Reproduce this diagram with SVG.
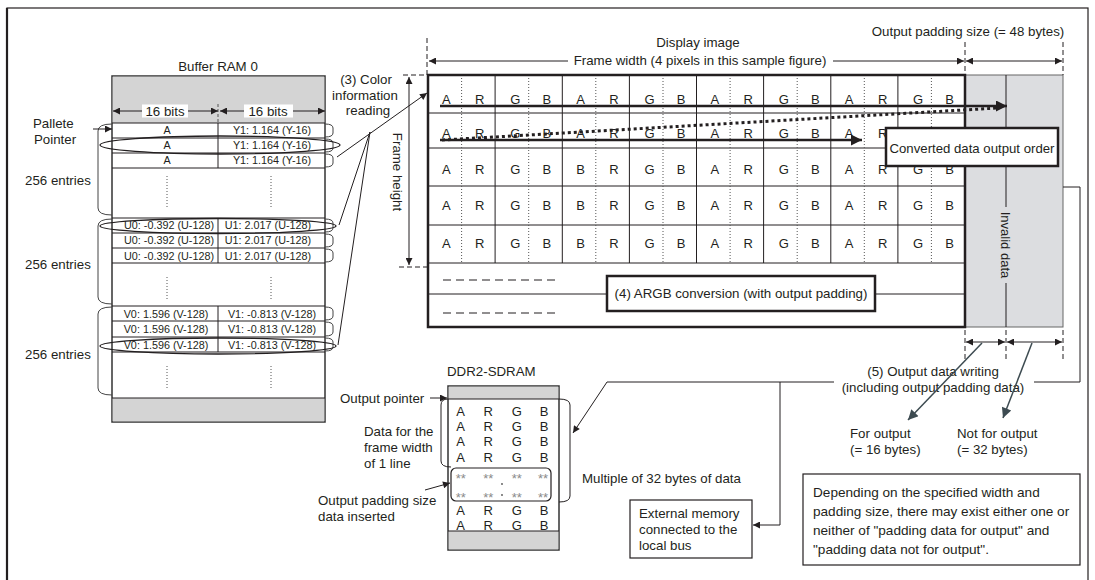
<svg xmlns="http://www.w3.org/2000/svg" width="1095" height="580" viewBox="0 0 1095 580">
<defs>
<style>
.t{font-family:"Liberation Sans",Arial,Helvetica,sans-serif;fill:#231f20}
.f10{font-size:10.8px}
.f12{font-size:13.3px}
.f13{font-size:13px}
.fn{font-size:13.6px}
.m{text-anchor:middle}
.ln{stroke:#231f20;stroke-width:1;fill:none}
.lg{stroke:#444;stroke-width:1;fill:none}
.thk{stroke:#231f20;stroke-width:2.5;fill:none}
.dsh{stroke:#231f20;stroke-width:1;stroke-dasharray:5 3;fill:none}
.dot{stroke:#555;stroke-width:1;stroke-dasharray:1 2;fill:none}
.gray{fill:#d4d4d4}
.ast{font-family:"Liberation Sans",Arial,sans-serif;font-size:13px;fill:#8a8a8a;text-anchor:middle}
</style>
<marker id="ah" viewBox="0 0 10 10" refX="10" refY="5" markerWidth="10" markerHeight="7" markerUnits="userSpaceOnUse" orient="auto-start-reverse"><path d="M0,0L10,5L0,10z" fill="#231f20"/></marker>
<marker id="ahL" viewBox="0 0 10 10" refX="10" refY="5" markerWidth="14" markerHeight="11" markerUnits="userSpaceOnUse" orient="auto-start-reverse"><path d="M0,0L10,5L0,10z" fill="#231f20"/></marker>
<marker id="ahG" viewBox="0 0 10 10" refX="10" refY="5" markerWidth="13" markerHeight="10" markerUnits="userSpaceOnUse" orient="auto-start-reverse"><path d="M0,0L10,5L0,10z" fill="#3d4b51"/></marker>
</defs>

<g id="outer-border">
<rect x="7" y="8" width="1081" height="580" fill="#fff" stroke="#231f20" stroke-width="1.2"/>
<line x1="7" y1="8" x2="7" y2="580" stroke="#231f20" stroke-width="2.2"/>
</g>

<!-- Buffer RAM 0 -->
<g id="buffer-ram-0">
<text class="t f12 m" x="218" y="70.5">Buffer RAM 0</text>
<rect x="112" y="76" width="213" height="346" fill="#fff" stroke="#333" stroke-width="1.5"/>
<rect class="gray" x="112.7" y="76.7" width="211.6" height="46.3"/>
<rect class="gray" x="112.7" y="398" width="211.6" height="23.3"/>
<g class="ln">
<path d="M112,123H325M112,138H325M112,153H325M112,168H325"/>
<path d="M112,218H325M112,233H325M112,248H325M112,263H325"/>
<path d="M112,306H325M112,321H325M112,337H325M112,352H325"/>
<path d="M112,398H325"/>
<path d="M218,123V168M218,218V263M218,306V352"/>
</g>
<line x1="218" y1="104" x2="218" y2="123" stroke="#555" stroke-dasharray="3 2"/>
<g class="dot">
<path d="M167,176V207M271,176V207M167,277V300M271,277V300M167,366V389M271,366V389"/>
</g>
<rect x="142" y="104.5" width="46" height="13" fill="#fff"/>
<rect x="244" y="104.5" width="49" height="13" fill="#fff"/>
<text class="t f12 m" x="165" y="116">16 bits</text>
<text class="t f12 m" x="268" y="116">16 bits</text>
<g class="t f10 m">
<text x="167" y="134">A</text><text x="272" y="134">Y1: 1.164 (Y-16)</text>
<text x="167" y="149">A</text><text x="272" y="149">Y1: 1.164 (Y-16)</text>
<text x="167" y="164">A</text><text x="272" y="164">Y1: 1.164 (Y-16)</text>
<text x="169" y="229">U0: -0.392 (U-128)</text><text x="268" y="229">U1: 2.017 (U-128)</text>
<text x="169" y="244">U0: -0.392 (U-128)</text><text x="268" y="244">U1: 2.017 (U-128)</text>
<text x="169" y="259.5">U0: -0.392 (U-128)</text><text x="268" y="259.5">U1: 2.017 (U-128)</text>
<text x="166" y="317.5">V0: 1.596 (V-128)</text><text x="272" y="317.5">V1: -0.813 (V-128)</text>
<text x="166" y="333">V0: 1.596 (V-128)</text><text x="272" y="333">V1: -0.813 (V-128)</text>
<text x="166" y="348.5">V0: 1.596 (V-128)</text><text x="272" y="348.5">V1: -0.813 (V-128)</text>
</g>
<g class="lg">
<path d="M325,124Q333,124 333,128V133Q333,137 325,137"/>
<path d="M325,139Q333,139 333,143V148Q333,152 325,152"/>
<path d="M325,154Q333,154 333,158V163Q333,167 325,167"/>
<path d="M325,219Q333,219 333,223V228Q333,232 325,232"/>
<path d="M325,234Q333,234 333,238V243Q333,247 325,247"/>
<path d="M325,249Q333,249 333,253V258Q333,262 325,262"/>
<path d="M325,307Q333,307 333,311V316Q333,320 325,320"/>
<path d="M325,322Q333,322 333,326V332Q333,336 325,336"/>
<path d="M325,338Q333,338 333,342V347Q333,351 325,351"/>
<path d="M112,124Q98,124 98,131V208Q98,215 112,215"/>
<path d="M112,219Q98,219 98,226V297Q98,304 112,304"/>
<path d="M112,307Q98,307 98,314V388Q98,395 112,395"/>
</g>
<g fill="none" stroke="#231f20" stroke-width="1.3">
<ellipse cx="220" cy="145" rx="120" ry="9"/>
<ellipse cx="218" cy="226" rx="118" ry="7.5"/>
<ellipse cx="218" cy="346" rx="118" ry="8"/>
</g>
</g>

<g id="buffer-labels">
<text class="t f12" x="33" y="127.5">Pallete</text>
<text class="t f12" x="34" y="143.5">Pointer</text>
<text class="t f12" x="25" y="184.5">256 entries</text>
<text class="t f12" x="25" y="268.5">256 entries</text>
<text class="t f12" x="25" y="358.5">256 entries</text>
<text class="t f12 m" x="366" y="84">(3) Color</text>
<text class="t f12 m" x="365" y="99.5">information</text>
<text class="t f12 m" x="368" y="115">reading</text>
</g>

<!-- Display image frame -->
<g id="display-image">
<rect x="965" y="75" width="98" height="252" fill="#dcdde0" stroke="#666" stroke-width="1"/>
<rect x="428" y="75" width="537" height="252" fill="#fff"/>
<g class="ln">
<path d="M428,113H965M428,148H965M428,186H965M428,225H965M428,263H965M428,294H965"/>
<path d="M495.1,75V263M562.3,75V263M629.4,75V263M696.5,75V263M763.6,75V263M830.8,75V263M897.9,75V263"/>
</g>
<g class="dot">
<path d="M461.6,75V263M528.7,75V263M595.8,75V263M663,75V263M730.1,75V263M797.2,75V263M864.3,75V263M931.4,75V263"/>
</g>
<rect x="428" y="75" width="537" height="252" fill="none" stroke="#231f20" stroke-width="2.5"/>
<g class="t f13 m">
<text x="446.3 479.8 515.4 546.9 580.6 614 649.6 681.2 714.8 748.3 783.9 815.4 849 882.6 918.1 949.7" y="104">ARGBARGBARGBARGB</text>
<text x="446.3 479.8 515.4 546.9 580.6 614 649.6 681.2 714.8 748.3 783.9 815.4 849 882.6 918.1 949.7" y="138">ARGBARGBARGBARGB</text>
<text x="446.3 479.8 515.4 546.9 580.6 614 649.6 681.2 714.8 748.3 783.9 815.4 849 882.6 918.1 949.7" y="174">ARGBBRGBARGBARGB</text>
<text x="446.3 479.8 515.4 546.9 580.6 614 649.6 681.2 714.8 748.3 783.9 815.4 849 882.6 918.1 949.7" y="210">ARGBBRGBARGBARGB</text>
<text x="446.3 479.8 515.4 546.9 580.6 614 649.6 681.2 714.8 748.3 783.9 815.4 849 882.6 918.1 949.7" y="248">ARGBBRGBARGBARGB</text>
</g>
<path d="M443,280H560M443,313H560" stroke="#231f20" stroke-width="1.2" stroke-dasharray="8 5" fill="none"/>
<path class="ln" d="M1006,75V207M1006,283V327"/>
<text class="t f13 m" transform="translate(1006,245) rotate(90)" dy="0.35em">Invalid data</text>
</g>

<g id="converted-order-box">
<rect x="886" y="128" width="172" height="38" fill="#fff" stroke="#231f20" stroke-width="2.5"/>
<text class="t m" style="font-size:13.2px" x="972" y="152.5">Converted data output order</text>
</g>

<g id="argb-conversion-box">
<rect x="607" y="276" width="268" height="35" fill="#fff" stroke="#231f20" stroke-width="2.5"/>
<text class="t f12 m" x="741" y="298">(4) ARGB conversion (with output padding)</text>
</g>

<g id="frame-labels">
<text class="t f12 m" x="698" y="47">Display image</text>
<text class="t f12 m" x="700" y="65">Frame width (4 pixels in this sample figure)</text>
<text class="t f12 m" x="968" y="36">Output padding size (= 48 bytes)</text>
<text class="t f12 m" transform="translate(398,172) rotate(90)" dy="0.35em">Frame height</text>
</g>

<!-- DDR2-SDRAM -->
<g id="ddr2-sdram">
<text class="t f12" x="447" y="376">DDR2-SDRAM</text>
<rect x="448" y="386" width="111" height="164" fill="#fff" stroke="#333" stroke-width="1.5"/>
<rect class="gray" x="448.7" y="386.7" width="109.6" height="12.3"/>
<rect class="gray" x="448.7" y="531" width="109.6" height="18.3"/>
<path class="ln" d="M448,399H559M448,531H559"/>
<g class="t f13 m">
<text x="460.7 488.3 516.7 544" y="416">ARGB</text>
<text x="460.7 488.3 516.7 544" y="431">ARGB</text>
<text x="460.7 488.3 516.7 544" y="446">ARGB</text>
<text x="460.7 488.3 516.7 544" y="461.5">ARGB</text>
<text x="460.7 488.3 516.7 544" y="515">ARGB</text>
<text x="460.7 488.3 516.7 544" y="530">ARGB</text>
</g>
<text class="ast" x="460.7" y="483">**</text><text class="ast" x="488.3" y="483">**</text><text class="ast" x="516.7" y="483">**</text><text class="ast" x="543" y="483">**</text>
<text class="ast" x="460.7" y="502">**</text><text class="ast" x="488.3" y="502">**</text><text class="ast" x="516.7" y="502">**</text><text class="ast" x="543" y="502">**</text>
<circle cx="502" cy="484" r="0.9" fill="#555"/>
<circle cx="502" cy="495" r="0.9" fill="#555"/>
<rect x="451" y="468" width="100" height="33" rx="5" fill="none" stroke="#231f20" stroke-width="1.2"/>
<path class="ln" d="M448,399Q441,399 441,405V461Q441,467 451,467"/>
<path class="ln" d="M559,399Q570,399 570,405V496Q570,502 559,502"/>
</g>

<g id="ddr2-labels">
<text class="t f12" x="340" y="402.5">Output pointer</text>
<text class="t f12" x="364" y="436">Data for the</text>
<text class="t f12" x="364" y="452">frame width</text>
<text class="t f12" x="364" y="468">of 1 line</text>
<text class="t f12" x="318" y="504.5">Output padding size</text>
<text class="t f12" x="318" y="520.5">data inserted</text>
<text class="t f12" x="582" y="482.5">Multiple of 32 bytes of data</text>
</g>

<g id="external-memory">
<rect x="630" y="500" width="122" height="58" fill="#fff" stroke="#231f20" stroke-width="1.2"/>
<text class="t f12" x="639" y="518">External memory</text>
<text class="t f12" x="639" y="534">connected to the</text>
<text class="t f12" x="639" y="549.5">local bus</text>
</g>

<g id="note">
<rect x="803" y="474" width="277" height="91" fill="#fff" stroke="#231f20" stroke-width="1.2"/>
<text class="t fn" x="813" y="497">Depending on the specified width and</text>
<text class="t fn" x="813" y="516">padding size, there may exist either one or</text>
<text class="t fn" x="813" y="535">neither of "padding data for output" and</text>
<text class="t fn" x="813" y="554">"padding data not for output".</text>
</g>

<g id="output-labels">
<text class="t f12 m" x="933" y="376">(5) Output data writing</text>
<text class="t f12 m" x="933" y="392">(including output padding data)</text>
<text class="t f12" x="850" y="438">For output</text>
<text class="t f12" x="850" y="454">(= 16 bytes)</text>
<text class="t f12" x="957" y="438">Not for output</text>
<text class="t f12" x="957" y="454">(= 32 bytes)</text>
</g>

<g id="connectors">
<line class="ln" x1="93" y1="129" x2="112" y2="129" marker-end="url(#ah)"/>
<line class="ln" x1="113" y1="111" x2="142" y2="111" marker-start="url(#ah)"/>
<line class="ln" x1="188" y1="111" x2="218" y2="111" marker-end="url(#ah)"/>
<line class="ln" x1="220" y1="111" x2="244" y2="111" marker-start="url(#ah)"/>
<line class="ln" x1="293" y1="111" x2="325" y2="111" marker-end="url(#ah)"/>
<line class="ln" x1="337" y1="157" x2="427" y2="93" marker-end="url(#ah)"/>
<path class="ln" d="M339,225L370,132L338,345"/>
<path class="dsh" d="M427,38V75M403,75H428M399,267H427"/>
<line class="ln" x1="409" y1="77" x2="409" y2="265" marker-start="url(#ah)" marker-end="url(#ah)"/>
<line class="ln" x1="568" y1="61" x2="429" y2="61" marker-end="url(#ah)"/>
<line class="ln" x1="833" y1="61" x2="964" y2="61" marker-end="url(#ah)"/>
<path class="dsh" d="M965,42V75M1063,42V75"/>
<line class="ln" x1="966" y1="61" x2="1062" y2="61" marker-start="url(#ah)" marker-end="url(#ah)"/>
<line class="thk" x1="440" y1="106" x2="1007" y2="106" marker-end="url(#ahL)"/>
<line x1="442" y1="140" x2="998" y2="108" stroke="#231f20" stroke-width="3" stroke-dasharray="3 3"/>
<line class="thk" x1="440" y1="140" x2="862" y2="140" marker-end="url(#ahL)"/>
<path class="dsh" d="M965,330V360M1006,330V360M1063,330V360"/>
<line class="ln" x1="966" y1="342" x2="1005" y2="342" marker-start="url(#ah)" marker-end="url(#ah)"/>
<line class="ln" x1="1007" y1="342" x2="1062" y2="342" marker-start="url(#ah)" marker-end="url(#ah)"/>
<line x1="982" y1="343" x2="908" y2="420" stroke="#3d4b51" stroke-width="1.5" marker-end="url(#ahG)"/>
<line x1="1032" y1="343" x2="1003" y2="418" stroke="#3d4b51" stroke-width="1.5" marker-end="url(#ahG)"/>
<path class="ln" d="M1063,187H1080V382H1034"/>
<path class="ln" d="M834,382H607L573,433" marker-end="url(#ah)"/>
<path class="ln" d="M780,382V525H753" marker-end="url(#ah)"/>
<line class="ln" x1="430" y1="398" x2="447" y2="398" marker-end="url(#ah)"/>
<line class="ln" x1="425" y1="490" x2="450" y2="483" marker-end="url(#ah)"/>
</g>
</svg>
